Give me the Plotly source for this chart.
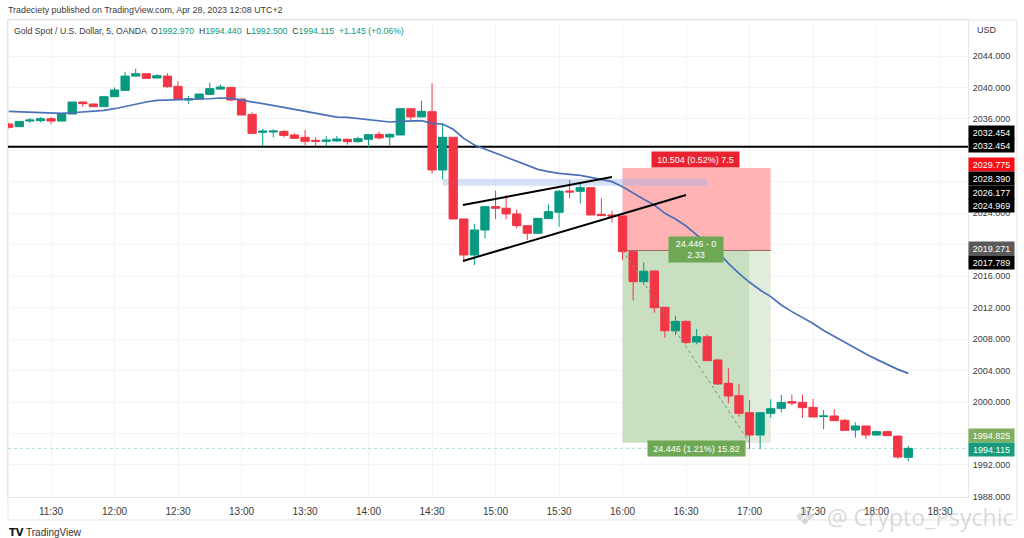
"""Gold 5 minute chart with a short position drawn on it, TradingView style."""

import pandas as pd
import plotly.graph_objects as go

# 5 minute bars, 11:10 to 18:15
bar_times = pd.date_range("2023-04-28 11:10", "2023-04-28 18:15", freq="5min")

open_prices = [
    2035.35, 2035.01, 2035.73, 2035.78, 2036.03, 2035.73, 2036.62, 2038.15, 2037.9, 2037.56,
    2038.83, 2039.63, 2041.45, 2041.75, 2041.2, 2041.45, 2040.14, 2038.4, 2038.57, 2039.12,
    2039.8, 2040.01, 2038.53, 2036.58, 2034.3, 2034.34, 2034.42, 2033.96, 2033.66, 2033.28,
    2033.15, 2033.2, 2033.41, 2033.11, 2033.41, 2034.04, 2033.7, 2033.96, 2037.3, 2036.25,
    2036.92, 2029.51, 2033.66, 2023.28, 2018.7, 2021.88, 2024.85, 2024.64, 2023.92, 2022.43,
    2021.46, 2023.32, 2024.13, 2026.84, 2026.8, 2027.26, 2023.87, 2023.79, 2023.66, 2019.13,
    2015.31, 2016.67, 2012.05, 2009.07, 2010.26, 2007.63, 2008.31, 2005.35, 2002.38, 2000.81,
    1998.65, 1995.81, 1998.57, 1999.2, 2000.05, 1999.96, 1999.33, 1998.16, 1998.23, 1997.68,
    1996.45, 1996.96, 1995.81, 1996.24, 1995.68, 1992.97,
]
high_prices = [
    2035.5, 2035.69, 2036.12, 2036.24, 2036.24, 2036.71, 2038.15, 2038.23, 2037.95, 2038.83,
    2040.01, 2042.0, 2042.39, 2041.8, 2041.71, 2041.8, 2040.82, 2038.91, 2039.17, 2040.61,
    2040.4, 2040.06, 2038.53, 2036.84, 2034.72, 2034.68, 2034.59, 2034.17, 2034.59, 2033.66,
    2033.83, 2033.83, 2033.5, 2033.75, 2034.0, 2034.38, 2034.17, 2037.3, 2037.3, 2038.32,
    2040.53, 2035.44, 2033.66, 2023.28, 2022.64, 2024.85, 2026.88, 2026.33, 2024.51, 2022.43,
    2023.36, 2025.14, 2026.97, 2028.24, 2027.81, 2027.26, 2025.9, 2024.34, 2023.66, 2019.13,
    2017.77, 2016.7, 2012.05, 2010.99, 2010.4, 2009.29, 2008.61, 2005.47, 2004.29, 2002.3,
    2000.26, 1998.65, 2000.34, 2000.9, 2000.94, 2000.94, 2000.39, 1999.0, 1999.07, 1997.85,
    1997.42, 1997.0, 1996.3, 1996.3, 1995.7, 1994.44,
]
low_prices = [
    2034.8, 2035.01, 2035.52, 2035.56, 2035.35, 2035.73, 2036.62, 2037.56, 2037.56, 2037.56,
    2038.8, 2039.63, 2041.37, 2041.16, 2041.2, 2039.97, 2038.49, 2037.9, 2038.57, 2039.12,
    2039.68, 2038.23, 2036.5, 2034.17, 2032.56, 2033.66, 2033.66, 2033.53, 2032.68, 2032.56,
    2032.56, 2033.07, 2032.73, 2032.98, 2032.39, 2033.41, 2032.64, 2033.96, 2035.86, 2036.25,
    2029.08, 2028.32, 2023.28, 2017.86, 2017.43, 2020.82, 2023.28, 2023.24, 2022.09, 2020.61,
    2021.46, 2023.32, 2022.31, 2025.9, 2025.27, 2023.79, 2023.7, 2022.81, 2018.07, 2012.9,
    2014.89, 2011.37, 2008.2, 2008.52, 2007.38, 2007.34, 2005.26, 2002.17, 1999.84, 1998.14,
    1994.03, 1994.03, 1998.0, 1998.69, 1999.58, 1998.0, 1998.1, 1996.53, 1997.6, 1996.4,
    1995.47, 1995.34, 1995.75, 1995.7, 1992.8, 1992.5,
]
close_prices = [
    2034.93, 2035.69, 2035.86, 2036.03, 2035.73, 2036.71, 2038.15, 2037.94, 2037.56, 2038.83,
    2039.68, 2041.45, 2041.75, 2041.16, 2041.5, 2040.1, 2038.49, 2038.57, 2039.17, 2039.85,
    2040.06, 2038.4, 2036.5, 2034.17, 2034.46, 2034.46, 2033.91, 2033.53, 2033.15, 2033.15,
    2033.32, 2033.45, 2033.11, 2033.49, 2034.0, 2033.58, 2034.04, 2037.3, 2036.25, 2036.97,
    2029.51, 2033.66, 2023.28, 2018.7, 2021.88, 2024.85, 2024.64, 2023.92, 2022.43, 2021.46,
    2023.36, 2024.21, 2026.8, 2026.71, 2027.26, 2023.79, 2023.7, 2023.66, 2019.13, 2015.31,
    2016.63, 2012.0, 2009.07, 2010.26, 2007.59, 2008.31, 2005.26, 2002.3, 2000.77, 1998.57,
    1995.81, 1998.65, 1999.16, 1999.96, 1999.88, 1999.29, 1998.1, 1998.23, 1997.63, 1996.4,
    1996.96, 1995.81, 1996.24, 1995.73, 1993.01, 1994.115,
]
moving_average = [
    2036.96, 2036.92, 2036.88, 2036.79, 2036.71, 2036.71, 2036.79, 2036.88, 2036.96, 2037.09,
    2037.3, 2037.6, 2037.9, 2038.15, 2038.36, 2038.4, 2038.4, 2038.4, 2038.49, 2038.57,
    2038.66, 2038.62, 2038.4, 2038.19, 2037.98, 2037.73, 2037.47, 2037.22, 2036.96, 2036.71,
    2036.45, 2036.24, 2036.2, 2036.03, 2035.86, 2035.74, 2035.61, 2035.69, 2035.78, 2035.78,
    2035.44, 2035.36, 2034.68, 2033.53, 2032.69, 2032.18, 2031.63, 2031.12, 2030.57, 2030.06,
    2029.59, 2029.3, 2029.08, 2028.96, 2028.83, 2028.58, 2028.32, 2028.03, 2027.39, 2026.54,
    2025.78, 2025.06, 2024.0, 2023.28, 2022.39, 2021.25, 2020.19, 2019.13, 2017.64, 2016.37,
    2015.23, 2014.25, 2013.41, 2012.35, 2011.5, 2010.8, 2010.0, 2009.1, 2008.35, 2007.55,
    2006.83, 2006.11, 2005.43, 2004.8, 2004.16, 2003.65,
]

price_ticks = [2044, 2040, 2036, 2032, 2028, 2024, 2020, 2016, 2012, 2008, 2004, 2000, 1996, 1992, 1988]
hidden_ticks = [2032, 2028, 2020, 1996]
time_ticks = pd.date_range("2023-04-28 11:30", "2023-04-28 18:30", freq="30min")

# drawings
support_level = 2032.454
last_close = 1994.115
stop_level = 2029.775
entry_level = 2019.271
target_level = 1994.825
zone_top = 2028.39
zone_bottom = 2027.5
upper_trend_prices = [2025.05, 2028.62]
lower_trend_prices = [2017.93, 2026.33]

# price tags on the right axis
tag_prices = [2032.454, 2032.454, 2029.775, 2028.39, 2026.177, 2024.969, 2019.271, 2017.789, 1994.825, 1994.115]
tag_colors = ["#000000", "#000000", "#f50f14", "#000000", "#000000", "#000000", "#5a5a5a", "#000000", "#7fb05f", "#169c7c"]
tag_shifts = [14, 1, 3, 0, 4, 0, 2, 0, 7, -1]

RED = "#f23645"
TEAL = "#089981"
BLUE = "#4a70b8"
FONT = "Liberation Sans"
TEXT = "#3a3a3a"
FRAME = "#e6e6e6"


def day(clock):
    return "2023-04-28 " + clock


fig = go.Figure()

fig.add_trace(
    go.Candlestick(
        x=bar_times,
        open=open_prices,
        high=high_prices,
        low=low_prices,
        close=close_prices,
        increasing=dict(line=dict(color=TEAL, width=1), fillcolor=TEAL),
        decreasing=dict(line=dict(color=RED, width=1), fillcolor=RED),
        whiskerwidth=0,
        showlegend=False,
    )
)
fig.add_trace(
    go.Scatter(
        x=bar_times,
        y=moving_average,
        mode="lines",
        line=dict(color=BLUE, width=1.7),
        showlegend=False,
    )
)


def box(start, end, y0, y1, color):
    fig.add_shape(
        type="rect", xref="x", yref="y", x0=day(start), x1=day(end), y0=y0, y1=y1,
        fillcolor=color, line_width=0, layer="between",
    )


def segment(start, end, y0, y1, color, width, dash="solid", layer="above"):
    fig.add_shape(
        type="line", xref="x", yref="y", x0=day(start), x1=day(end), y0=y0, y1=y1,
        line=dict(color=color, width=width, dash=dash), layer=layer,
    )


box("16:00", "17:10", stop_level, entry_level, "#ffb3b5")
box("16:00", "17:00", entry_level, target_level, "#c8dfc2")
box("17:00", "17:10", entry_level, target_level, "#e1ecdc")
segment("16:00", "17:10", entry_level, entry_level, "#9c6b60", 1, layer="between")
segment("16:00", "17:00", entry_level, target_level, "#7f8f7a", 1, dash="dot")
box("14:35", "16:40", zone_top, zone_bottom, "rgba(150,180,240,0.38)")
segment("11:09:40", "18:43:12", support_level, support_level, "#000000", 2, layer="between")
segment("11:09:40", "18:43:12", last_close, last_close, "#a9d8cf", 1, dash="dot", layer="between")
segment("14:44:36", "15:55", upper_trend_prices[0], upper_trend_prices[1], "#000000", 2)
segment("14:44:36", "16:30", lower_trend_prices[0], lower_trend_prices[1], "#000000", 2)

# outer frame around chart and axes
fig.add_shape(
    type="rect", xref="paper", yref="paper", x0=0, x1=1.051, y0=-0.048, y1=1,
    line=dict(color=FRAME, width=1), layer="below",
)

for price, color, shift in zip(tag_prices, tag_colors, tag_shifts):
    fig.add_annotation(
        xref="paper", yref="y", x=1, y=price, xanchor="left", yanchor="middle",
        text=f"{price:.3f}", showarrow=False, width=45, height=13, borderpad=0,
        bgcolor=color, yshift=shift, font=dict(family=FONT, size=9, color="#ffffff"),
    )

# labels of the position tool
for clock, price, shift, label, color, width, height in [
    ("16:34:30", stop_level, 8, "10.504 (0.52%) 7.5", "#e8222e", 87, 15),
    ("16:34:30", entry_level, 1, "24.446 - 0<br>2.33", "#6fa855", 54, 25),
    ("16:35", target_level, -6, "24.446 (1.21%) 15.82", "#6fa855", 97, 15),
]:
    fig.add_annotation(
        xref="x", yref="y", x=day(clock), y=price, yshift=shift, text=label, showarrow=False,
        width=width, height=height, bgcolor=color, borderpad=0,
        font=dict(family=FONT, size=9, color="#ffffff"),
    )

fig.add_annotation(
    xref="paper", yref="paper", x=-0.002, y=1.02, xanchor="left", yanchor="middle", showarrow=False,
    text="Tradeciety published on TradingView.com, Apr 28, 2023 12:08 UTC+2",
    font=dict(family=FONT, size=8.9, color=TEXT),
)
value = '<span style="color:#089981">{}</span>'
fig.add_annotation(
    xref="paper", yref="paper", x=0.004, y=0.977, xanchor="left", yanchor="middle", showarrow=False,
    text=(
        "Gold Spot / U.S. Dollar, 5, OANDA  O" + value.format("1992.970")
        + "  H" + value.format("1994.440") + "  L" + value.format("1992.500")
        + "  C" + value.format("1994.115") + "  " + value.format("+1.145 (+0.06%)")
    ),
    font=dict(family=FONT, size=8.7, color=TEXT),
)
fig.add_annotation(
    xref="paper", yref="paper", x=1.007, y=0.979, xanchor="left", yanchor="middle", showarrow=False,
    text="USD", font=dict(family=FONT, size=9, color=TEXT),
)
fig.add_annotation(
    xref="paper", yref="paper", x=-0.001, y=-0.075, xanchor="left", yanchor="middle", showarrow=False,
    text="<b>TV</b>", font=dict(family="DejaVu Sans", size=10, color="#131722"),
)
fig.add_annotation(
    xref="paper", yref="paper", x=0.017, y=-0.075, xanchor="left", yanchor="middle", showarrow=False,
    text="TradingView", font=dict(family=FONT, size=10, color="#333333"),
)
fig.add_annotation(
    xref="paper", yref="paper", x=0.817, y=-0.042, xanchor="left", yanchor="middle", showarrow=False,
    text="❖", font=dict(family="DejaVu Sans", size=24, color="rgba(160,160,160,0.4)"),
)
fig.add_annotation(
    xref="paper", yref="paper", x=0.851, y=-0.042, xanchor="left", yanchor="middle", showarrow=False,
    text="@ Crypto_Psychic", font=dict(family="Open Sans", size=23, color="rgba(160,160,160,0.4)"),
)

fig.update_layout(
    width=1024,
    height=538,
    margin=dict(l=8, r=56, t=20, b=41),
    paper_bgcolor="#ffffff",
    plot_bgcolor="#ffffff",
    boxgap=0.1,
    boxgroupgap=0.13,
    showlegend=False,
    font=dict(family=FONT, size=10, color=TEXT),
    xaxis=dict(
        type="date",
        range=[day("11:09:40"), day("18:43:12")],
        rangeslider_visible=False,
        tickvals=time_ticks,
        tickformat="%H:%M",
        gridcolor="#f3f4f6",
        showline=True,
        linecolor=FRAME,
        mirror=True,
        ticks="outside",
        ticklen=5,
        tickcolor="rgba(0,0,0,0)",
        tickfont=dict(size=10, color=TEXT),
    ),
    yaxis=dict(
        side="right",
        range=[1987.93, 2048.58],
        tickvals=price_ticks,
        ticktext=["" if p in hidden_ticks else f"{p:.3f}" for p in price_ticks],
        ticklabelstandoff=2,
        gridcolor="#f3f4f6",
        showline=True,
        linecolor=FRAME,
        mirror=True,
        zeroline=False,
        ticks="",
        tickfont=dict(size=9, color=TEXT),
    ),
)

# the page must not add its default body margin to the fixed size figure
fig.write_html(
    "out.html",
    config={"displayModeBar": False},
    post_script="document.body.style.margin = '0';",
)
